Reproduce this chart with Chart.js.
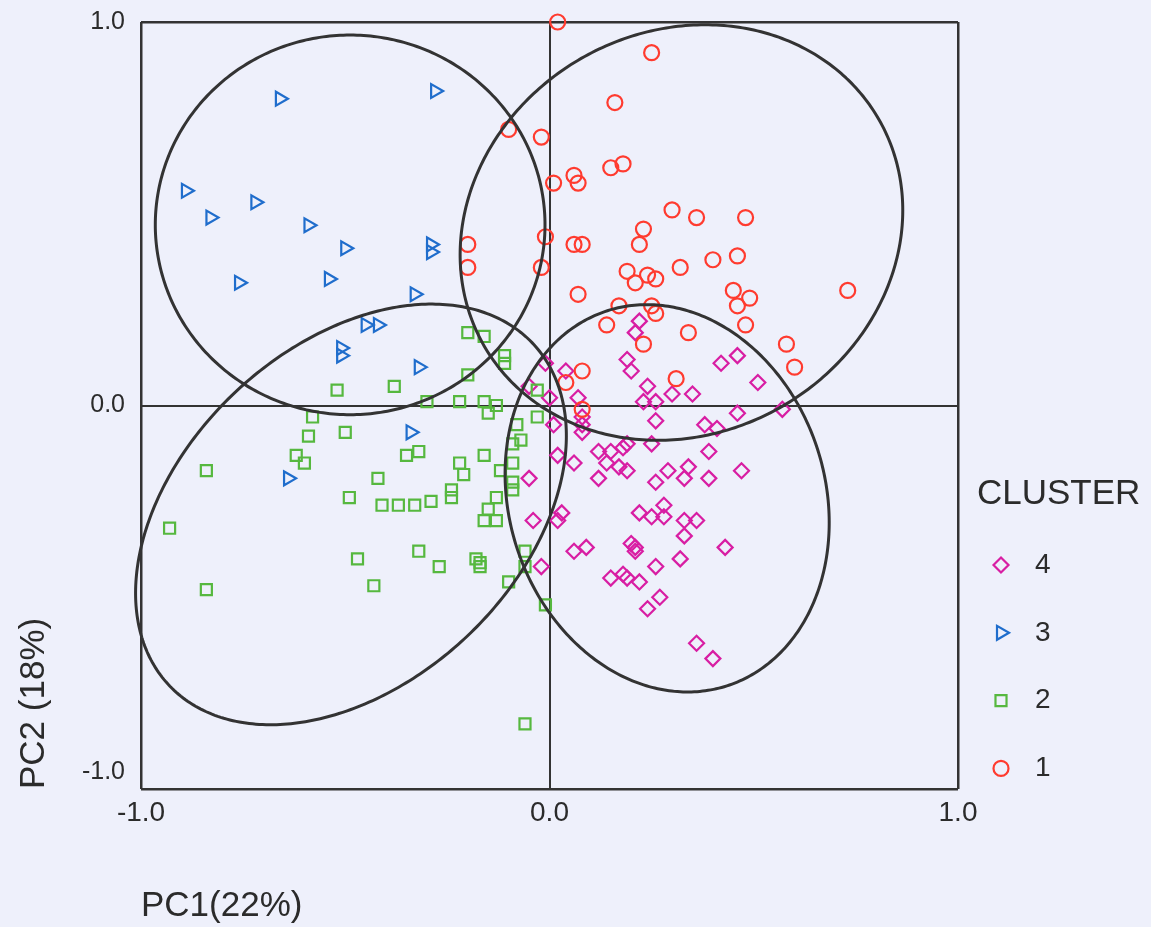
<!DOCTYPE html>
<html>
<head>
<meta charset="utf-8">
<script src="https://cdn.jsdelivr.net/npm/chart.js@4.4.1/dist/chart.umd.min.js"></script>
<style>
  html, body { margin: 0; padding: 0; background: #eef0fb; }
  #wrap { width: 1151px; height: 927px; }
</style>
</head>
<body>
<div id="wrap"><canvas id="chart" width="1151" height="927"></canvas></div>
<script>
// PCA scores per cluster: [PC1, PC2]
const cluster1 = [
  [0.02, 1.00], [0.25, 0.92], [0.16, 0.79], [-0.10, 0.72], [-0.02, 0.70], [0.06, 0.60],
  [0.07, 0.58], [0.15, 0.62], [0.18, 0.63], [0.01, 0.58], [0.30, 0.51], [0.36, 0.49],
  [0.48, 0.49], [0.23, 0.46], [0.22, 0.42], [0.06, 0.42], [0.08, 0.42], [-0.01, 0.44],
  [-0.20, 0.42], [-0.20, 0.36], [-0.02, 0.36], [0.19, 0.35], [0.24, 0.34], [0.26, 0.33],
  [0.21, 0.32], [0.32, 0.36], [0.40, 0.38], [0.46, 0.39], [0.07, 0.29], [0.17, 0.26],
  [0.14, 0.21], [0.25, 0.26], [0.26, 0.24], [0.45, 0.30], [0.46, 0.26], [0.49, 0.28],
  [0.48, 0.21], [0.73, 0.30], [0.34, 0.19], [0.23, 0.16], [0.58, 0.16], [0.60, 0.10],
  [0.31, 0.07], [0.08, 0.09], [0.04, 0.06], [0.08, -0.01]
];
const cluster2 = [
  [-0.52, 0.04], [-0.38, 0.05], [-0.58, -0.03], [-0.59, -0.08], [-0.50, -0.07], [-0.62, -0.13],
  [-0.60, -0.15], [-0.84, -0.17], [-0.35, -0.13], [-0.32, -0.12], [-0.42, -0.19], [-0.49, -0.24],
  [-0.41, -0.26], [-0.37, -0.26], [-0.33, -0.26], [-0.93, -0.32], [-0.20, 0.19], [-0.16, 0.18],
  [-0.11, 0.13], [-0.11, 0.11], [-0.20, 0.08], [-0.30, 0.01], [-0.22, 0.01], [-0.16, 0.01],
  [-0.15, -0.02], [-0.13, 0.00], [-0.03, 0.04], [-0.03, -0.03], [-0.08, -0.05], [-0.09, -0.10],
  [-0.07, -0.09], [-0.16, -0.13], [-0.22, -0.15], [-0.21, -0.18], [-0.09, -0.15], [-0.12, -0.17],
  [-0.09, -0.20], [-0.09, -0.22], [-0.24, -0.22], [-0.24, -0.24], [-0.29, -0.25], [-0.13, -0.24],
  [-0.15, -0.27], [-0.16, -0.30], [-0.13, -0.30], [-0.32, -0.38], [-0.27, -0.42], [-0.18, -0.40],
  [-0.17, -0.41], [-0.17, -0.42], [-0.06, -0.38], [-0.06, -0.42], [-0.10, -0.46], [-0.01, -0.52],
  [-0.06, -0.83], [-0.84, -0.48], [-0.47, -0.40], [-0.43, -0.47]
];
const cluster3 = [
  [-0.66, 0.80], [-0.28, 0.82], [-0.89, 0.56], [-0.83, 0.49], [-0.72, 0.53], [-0.59, 0.47],
  [-0.50, 0.41], [-0.29, 0.42], [-0.29, 0.40], [-0.54, 0.33], [-0.76, 0.32], [-0.33, 0.29],
  [-0.45, 0.21], [-0.42, 0.21], [-0.51, 0.15], [-0.51, 0.13], [-0.32, 0.10], [-0.34, -0.07],
  [-0.64, -0.19]
];
const cluster4 = [
  [0.22, 0.22], [0.21, 0.19], [0.19, 0.12], [0.20, 0.09], [0.24, 0.05], [0.23, 0.01],
  [0.26, 0.01], [0.30, 0.03], [0.35, 0.03], [0.26, -0.04], [-0.01, 0.11], [0.04, 0.09],
  [-0.05, 0.05], [0.00, 0.02], [0.07, 0.02], [0.08, -0.03], [0.08, -0.05], [0.01, -0.05],
  [0.08, -0.07], [0.25, -0.10], [0.19, -0.10], [0.18, -0.11], [0.12, -0.12], [0.15, -0.12],
  [0.14, -0.15], [0.17, -0.16], [0.19, -0.17], [0.12, -0.19], [0.06, -0.15], [0.02, -0.13],
  [-0.05, -0.19], [0.26, -0.20], [0.29, -0.17], [0.33, -0.19], [0.22, -0.28], [0.25, -0.29],
  [0.28, -0.26], [0.28, -0.29], [0.33, -0.30], [0.03, -0.28], [-0.04, -0.30], [0.02, -0.30],
  [0.46, 0.13], [0.42, 0.11], [0.51, 0.06], [0.57, -0.01], [0.46, -0.02], [0.38, -0.05],
  [0.41, -0.06], [0.39, -0.12], [0.34, -0.16], [0.39, -0.19], [0.47, -0.17], [0.36, -0.30],
  [0.33, -0.34], [0.43, -0.37], [0.32, -0.40], [0.36, -0.62], [0.40, -0.66], [0.06, -0.38],
  [0.09, -0.37], [-0.02, -0.42], [0.20, -0.36], [0.21, -0.37], [0.21, -0.38], [0.15, -0.45],
  [0.18, -0.44], [0.19, -0.45], [0.22, -0.46], [0.26, -0.42], [0.27, -0.50], [0.24, -0.53]
];

// cluster ellipses: centre, semi-axes, rotation (deg), in PC units
const ellipseCenters = [[0.323, 0.451], [-0.486, -0.284], [-0.488, 0.471], [0.288, -0.242]];
const ellipseAxes = [[0.57, 0.512], [0.631, 0.425], [0.477, 0.495], [0.389, 0.511]];
const ellipseAngles = [45, 48, 0, 13.6];

const axisTicks = [-1, 0, 1];
const legendOrder = ['4', '3', '2', '1'];

const textColor = '#2b2b2b';
const lineColor = '#333333';
const bgColor = '#eef0fb';
const FONT = '"Liberation Sans", Arial, sans-serif';

const toPoints = arr => arr.map(([x, y]) => ({ x, y }));

const datasets = [
  { label: '1', data: toPoints(cluster1), pointStyle: 'circle', pointRadius: 7.5, borderColor: '#ff3b2f' },
  { label: '2', data: toPoints(cluster2), pointStyle: 'rect', pointRadius: 7.8, borderColor: '#56b83f' },
  { label: '3', data: toPoints(cluster3), pointStyle: 'triangle', rotation: 90, pointRadius: 8, borderColor: '#1f6dcc' },
  { label: '4', data: toPoints(cluster4), pointStyle: 'rectRot', pointRadius: 7.5, borderColor: '#d81ea3' }
].map(ds => ({
  ...ds,
  backgroundColor: 'rgba(0,0,0,0)',
  borderWidth: 2.2,
  pointHoverRadius: ds.pointRadius,
  clip: false
}));

const bgPlugin = {
  id: 'bg',
  beforeDraw(chart) {
    const ctx = chart.ctx;
    ctx.save();
    ctx.fillStyle = bgColor;
    ctx.fillRect(0, 0, chart.width, chart.height);
    ctx.restore();
    // the bottom PC2 label sits a little above its line in the original
    const ys = chart.scales.y;
    const items = ys.getLabelItems(chart.chartArea);
    items.forEach((it, i) => {
      if (ys.ticks[i] && ys.ticks[i].value === -1 && !it._lifted) {
        it.options.translation[1] -= 17;
        it._lifted = true;
      }
    });
  }
};

const ellipsePlugin = {
  id: 'ellipses',
  afterDatasetsDraw(chart) {
    const { ctx, scales: { x, y } } = chart;
    ctx.save();
    ctx.strokeStyle = lineColor;
    ctx.lineWidth = 3;
    ellipseCenters.forEach((c, i) => {
      const [a, b] = ellipseAxes[i];
      const t = ellipseAngles[i] * Math.PI / 180;
      ctx.beginPath();
      for (let k = 0; k <= 360; k++) {
        const p = k * Math.PI / 180;
        const dx = a * Math.cos(p), dy = b * Math.sin(p);
        const px = x.getPixelForValue(c[0] + dx * Math.cos(t) - dy * Math.sin(t));
        const py = y.getPixelForValue(c[1] + dx * Math.sin(t) + dy * Math.cos(t));
        if (k === 0) ctx.moveTo(px, py); else ctx.lineTo(px, py);
      }
      ctx.closePath();
      ctx.stroke();
    });
    ctx.restore();
  }
};

const legendPlugin = {
  id: 'clusterLegend',
  afterDraw(chart) {
    const ctx = chart.ctx;
    ctx.save();
    ctx.fillStyle = textColor;
    ctx.textAlign = 'left';
    ctx.textBaseline = 'middle';
    ctx.font = '35px ' + FONT;
    ctx.fillText('CLUSTER', 977, 494);
    ctx.font = '28px ' + FONT;
    legendOrder.forEach((label, i) => {
      const ds = chart.data.datasets.find(d => d.label === label);
      const yy = 565 + i * 67.8;
      ctx.save();
      ctx.strokeStyle = ds.borderColor;
      ctx.fillStyle = 'rgba(0,0,0,0)';
      ctx.lineWidth = 2.2;
      Chart.helpers.drawPoint(ctx, {
        pointStyle: ds.pointStyle,
        rotation: ds.rotation || 0,
        radius: ds.pointRadius,
        borderWidth: 2.2
      }, 1001, yy);
      ctx.restore();
      ctx.fillStyle = textColor;
      ctx.fillText(label, 1035, yy);
    });
    ctx.restore();
  }
};

new Chart(document.getElementById('chart'), {
  type: 'scatter',
  data: { datasets },
  options: {
    responsive: false,
    animation: false,
    layout: { padding: { top: 22, right: 193, bottom: 0, left: 0 } },
    plugins: {
      legend: { display: false },
      tooltip: { enabled: false }
    },
    scales: {
      x: {
        type: 'linear',
        min: -1, max: 1,
        afterFit: s => { s.height = 138; s.paddingLeft = 0; s.paddingRight = 0; },
        afterBuildTicks: s => { s.ticks = axisTicks.map(v => ({ value: v })); },
        grid: {
          color: lineColor,
          lineWidth: c => (c.tick && c.tick.value === 0 ? 2 : 2.5),
          drawTicks: false
        },
        border: { display: false },
        ticks: {
          padding: 7,
          color: textColor,
          font: { family: FONT, size: 28 },
          callback: v => v.toFixed(1)
        },
        title: {
          display: true,
          text: 'PC1(22%)',
          align: 'start',
          color: textColor,
          font: { family: FONT, size: 35 },
          padding: { top: 0, bottom: 0 }
        }
      },
      y: {
        type: 'linear',
        min: -1, max: 1,
        afterFit: s => { s.width = 141; s.paddingTop = 0; s.paddingBottom = 0; },
        afterBuildTicks: s => { s.ticks = axisTicks.map(v => ({ value: v })); },
        grid: {
          color: lineColor,
          lineWidth: c => (c.tick && c.tick.value === 0 ? 2 : 2.5),
          drawTicks: false
        },
        border: { display: false },
        ticks: {
          padding: 16,
          color: textColor,
          font: { family: FONT, size: 25 },
          callback: v => v.toFixed(1)
        },
        title: {
          display: true,
          text: 'PC2 (18%)',
          align: 'start',
          color: textColor,
          font: { family: FONT, size: 35 },
          padding: { top: 13, bottom: 0 }
        }
      }
    }
  },
  plugins: [bgPlugin, ellipsePlugin, legendPlugin]
});
</script>
</body>
</html>
